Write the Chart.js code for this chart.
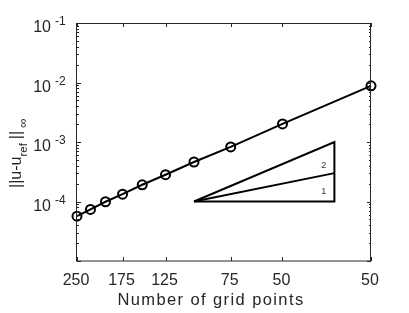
<!DOCTYPE html>
<html>
<head>
<meta charset="utf-8">
<script src="https://cdn.jsdelivr.net/npm/chart.js@4"></script>
<style>
  body { margin: 0; background: #fff; }
  canvas { display: block; }
</style>
</head>
<body>
<canvas id="conv" width="409" height="313"></canvas>
<script>
// convergence data
var grid_points = [250, 225, 200, 175, 150, 125, 100, 75, 50, 25];
var err_inf = [5.67e-5, 7.36e-5, 9.9e-5, 1.33e-4, 1.91e-4, 2.82e-4, 4.61e-4, 8.26e-4, 2.01e-3, 8.8e-3];

// slope triangle
var tri_x = [100, 33.3, 33.3, 100];
var tri_y = [1e-4, 1e-4, 1e-3, 1e-4];
var slope1_x = [100, 33.3];
var slope1_y = [1e-4, 3e-4];
var tri_labels = ["2", "1"];
var tri_label_x = [36.2, 36.2];
var tri_label_y = [3.95e-4, 1.46e-4];

// axes
var x_tick_vals = [250, 175, 125, 75, 50, 25];
var x_tick_labels = ["250", "175", "125", "75", "50", "50"];
var y_decades = [-5, -4, -3, -2, -1];
var y_tick_labels = ["10", "10", "10", "10", "10"];
var y_tick_exps = ["-5", "-4", "-3", "-2", "-1"];
var x_title = "Number of grid points";

function to_xy(xs, ys) {
  var out = [];
  for (var i = 0; i < xs.length; i++) {
    out.push({x: xs[i], y: ys[i]});
  }
  return out;
}

var axis_color = "#262626";
var font_name = "'Liberation Sans', Arial, Helvetica, sans-serif";

var axes_plugin = {
  id: "matlab_axes",
  afterDraw: function(chart) {
    var c = chart.ctx;
    var a = chart.chartArea;
    var xs = chart.scales.x;
    var ys = chart.scales.y;
    c.save();
    c.strokeStyle = axis_color;
    c.lineWidth = 1;
    c.strokeRect(a.left - 0.5, a.top + 0.5, a.right - a.left, a.bottom - a.top - 0.5);

    // y ticks (major + minor), both sides, pointing in
    c.beginPath();
    for (var i = 0; i < y_decades.length; i++) {
      for (var k = 1; k <= 9; k++) {
        var v = k * Math.pow(10, y_decades[i]);
        if (v > 0.1 * 1.0001) break;
        var py = Math.round(ys.getPixelForValue(v)) + 0.5;
        var len = (k == 1) ? 4 : 2;
        c.moveTo(a.left, py); c.lineTo(a.left + len, py);
        c.moveTo(a.right, py); c.lineTo(a.right - len, py);
      }
    }
    // x ticks
    for (var j = 0; j < x_tick_vals.length; j++) {
      var px = Math.round(xs.getPixelForValue(x_tick_vals[j])) + 0.5;
      c.moveTo(px, a.bottom); c.lineTo(px, a.bottom - 4);
      c.moveTo(px, a.top); c.lineTo(px, a.top + 4);
    }
    c.stroke();

    c.fillStyle = axis_color;
    // x tick labels
    c.font = "16px " + font_name;
    c.textAlign = "center";
    c.textBaseline = "alphabetic";
    for (var j = 0; j < x_tick_vals.length; j++) {
      c.fillText(x_tick_labels[j], xs.getPixelForValue(x_tick_vals[j]) - 1, 285);
    }
    // x title (spaced out a bit like the original)
    c.font = "16.5px " + font_name;
    c.letterSpacing = "1.4px";
    c.fillText(x_title, 211, 305);
    c.letterSpacing = "0px";

    // y tick labels 10^n
    for (var i = 0; i < y_decades.length; i++) {
      var ty = ys.getPixelForValue(Math.pow(10, y_decades[i]));
      if (ty > a.bottom - 2) continue;
      c.font = "12px " + font_name;
      c.textAlign = "left";
      c.fillText(y_tick_exps[i], 55, ty + 2);
      c.font = "16px " + font_name;
      c.textAlign = "right";
      c.fillText(y_tick_labels[i], 51, ty + 9);
    }

    // y title ||u-u_ref||_inf, rotated
    c.translate(21, 188);
    c.rotate(-Math.PI / 2);
    c.textAlign = "left";
    var parts = [
      ["||u-u", 16, 0, 0],
      ["ref", 11.5, 6, 4],
      ["||", 16, 0, 3],
      ["\u221E", 13, 6, 0]
    ];
    var cx = 0;
    for (var p = 0; p < parts.length; p++) {
      c.font = parts[p][1] + "px " + font_name;
      c.fillText(parts[p][0], cx, parts[p][2]);
      cx += c.measureText(parts[p][0]).width + parts[p][3];
    }
    c.restore();

    // triangle labels
    c.save();
    c.fillStyle = "#333";
    c.font = "9px " + font_name;
    c.textAlign = "center";
    c.textBaseline = "middle";
    for (var t = 0; t < tri_labels.length; t++) {
      c.fillText(tri_labels[t], xs.getPixelForValue(tri_label_x[t]), ys.getPixelForValue(tri_label_y[t]));
    }
    c.restore();
  }
};

var ctx = document.getElementById("conv").getContext("2d");
var chart = new Chart(ctx, {
  type: "scatter",
  data: {
    datasets: [{
      data: to_xy(tri_x, tri_y),
      showLine: true,
      borderColor: "#000",
      borderWidth: 2,
      pointRadius: 0,
      clip: false,
    }, {
      data: to_xy(slope1_x, slope1_y),
      showLine: true,
      borderColor: "#000",
      borderWidth: 2,
      pointRadius: 0,
      clip: false,
    }, {
      data: to_xy(grid_points, err_inf),
      showLine: true,
      borderColor: "#000",
      borderWidth: 2,
      pointRadius: 4.5,
      pointBorderWidth: 2,
      pointBackgroundColor: "rgba(255,255,255,0)",
      pointBorderColor: "#000",
      clip: false,
    }]
  },
  options: {
    responsive: false,
    animation: false,
    layout: {
      padding: {left: 77, right: 38, top: 23, bottom: 52}
    },
    scales: {
      x: {
        type: "logarithmic",
        reverse: true,
        min: 25,
        max: 250,
        display: false
      },
      y: {
        type: "logarithmic",
        min: 1e-5,
        max: 0.1,
        display: false
      }
    },
    plugins: {
      legend: { display: false },
      tooltip: { enabled: false }
    }
  },
  plugins: [axes_plugin]
});
</script>
</body>
</html>
